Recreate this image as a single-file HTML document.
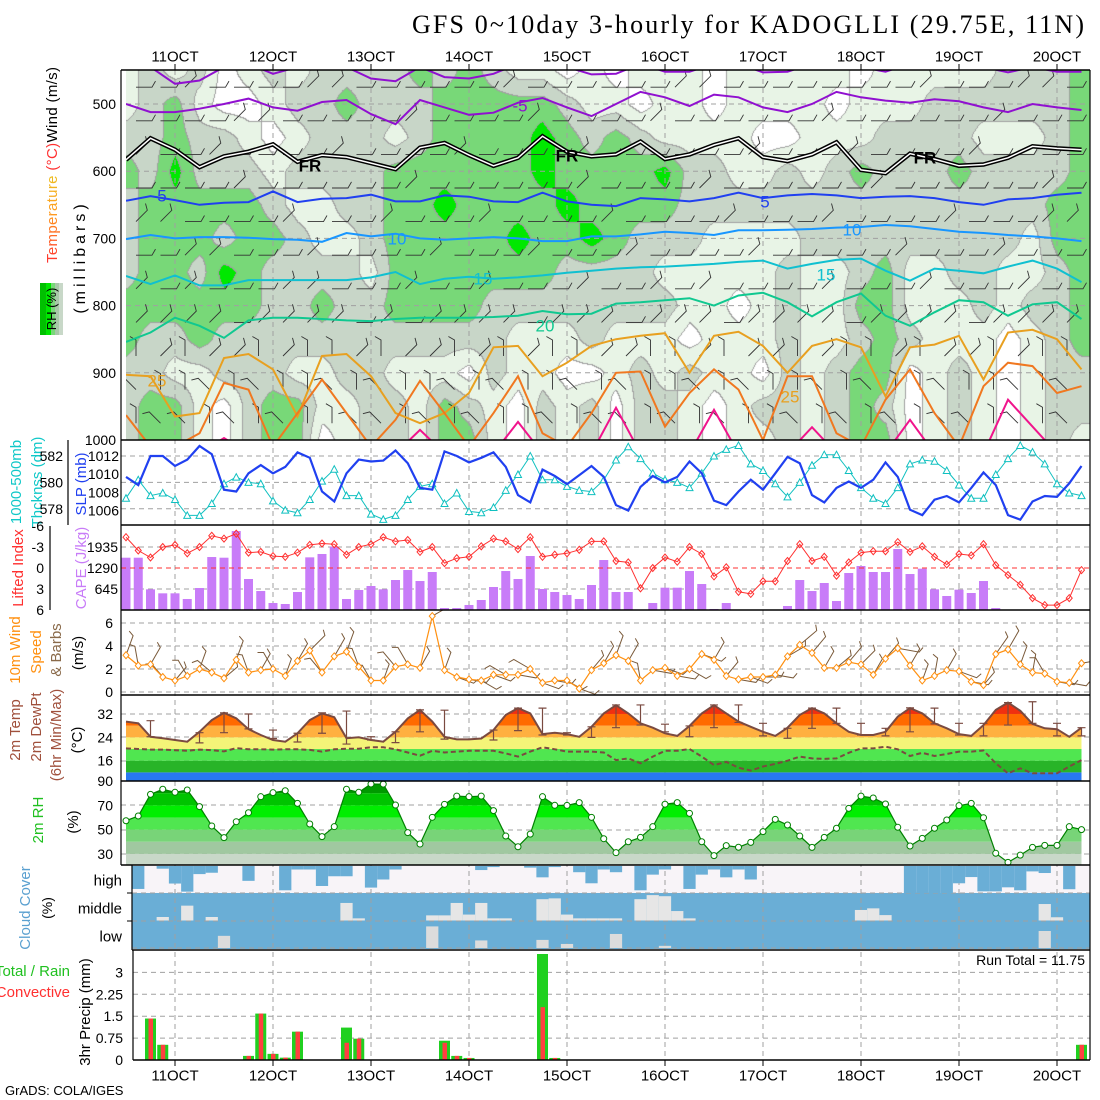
<!DOCTYPE html>
<html>
<head>
<meta charset="utf-8">
<style>
body{margin:0;background:#fff;width:1100px;height:1100px;overflow:hidden;position:relative;font-family:"Liberation Sans",sans-serif}
#rhcanvas{position:absolute;left:126px;top:70px}
#chart{position:absolute;left:0;top:0}
text{font-family:"Liberation Sans",sans-serif}
</style>
</head>
<body>
<canvas id="rhcanvas" width="964" height="370"></canvas>
<svg id="chart" width="1100" height="1100" xmlns="http://www.w3.org/2000/svg">
<defs>
  <clipPath id="clipMain"><rect x="126" y="70" width="964" height="370"/></clipPath>
  <clipPath id="clipWind"><rect x="121" y="610" width="969" height="85"/></clipPath>
  <linearGradient id="tempGrad" x1="0" y1="0" x2="1" y2="0">
    <stop offset="0" stop-color="#ff3030"/><stop offset="0.25" stop-color="#ff9a20"/>
    <stop offset="0.5" stop-color="#e8c820"/><stop offset="0.7" stop-color="#30c860"/>
    <stop offset="1" stop-color="#10b8d8"/>
  </linearGradient>
</defs>
<g id="gBack"></g>
<g id="gGrid"></g>
<g id="gData"></g>
<g id="gFrame"></g>

<text x="1084" y="33" text-anchor="end" font-family="Liberation Serif, serif" font-size="26" textLength="672" style="font-family:'Liberation Serif',serif">GFS 0~10day 3-hourly for KADOGLLI (29.75E, 11N)</text>

<text transform="translate(57,165) rotate(-90)" text-anchor="middle" font-size="15" textLength="196"><tspan fill="url(#tempGrad)">Temperature</tspan><tspan fill="#ff3030"> (°C)</tspan><tspan fill="#000">Wind (m/s)</tspan></text>
<text transform="translate(85,257) rotate(-90)" text-anchor="middle" font-size="16" letter-spacing="4">(millibars)</text>
<g>
  <rect x="40" y="283" width="6" height="52" fill="#00c000"/>
  <rect x="46" y="283" width="5" height="52" fill="#00e600"/>
  <rect x="51" y="283" width="4" height="52" fill="#78d878"/>
  <rect x="55" y="283" width="4" height="52" fill="#a8c8a8"/>
  <rect x="59" y="283" width="4" height="52" fill="#c8d8c8"/>
  <text transform="translate(56,309) rotate(-90)" text-anchor="middle" font-size="13">RH (%)</text>
</g>

<text transform="translate(21,482) rotate(-90)" text-anchor="middle" font-size="15" fill="#10c8c8">1000-500mb</text>
<text transform="translate(42,482) rotate(-90)" text-anchor="middle" font-size="15" fill="#10c8c8">Thcknss (dm)</text>
<text transform="translate(86,484) rotate(-90)" text-anchor="middle" font-size="15" fill="#2040f0">SLP (mb)</text>

<text transform="translate(23,568) rotate(-90)" text-anchor="middle" font-size="15" fill="#ff3030">Lifted Index</text>
<text transform="translate(86,568) rotate(-90)" text-anchor="middle" font-size="15" fill="#c87cf8">CAPE (J/kg)</text>

<text transform="translate(20,650) rotate(-90)" text-anchor="middle" font-size="15" fill="#ff9010">10m Wind</text>
<text transform="translate(41,652) rotate(-90)" text-anchor="middle" font-size="15" fill="#ff9010">Speed</text>
<text transform="translate(61,650) rotate(-90)" text-anchor="middle" font-size="15" fill="#8a6a4a">&amp; Barbs</text>
<text transform="translate(83,653) rotate(-90)" text-anchor="middle" font-size="15">(m/s)</text>

<text transform="translate(20,730) rotate(-90)" text-anchor="middle" font-size="15" fill="#a0503c">2m Temp</text>
<text transform="translate(41,727) rotate(-90)" text-anchor="middle" font-size="15" fill="#a0503c">2m DewPt</text>
<text transform="translate(61,735) rotate(-90)" text-anchor="middle" font-size="15" fill="#a0503c">(6hr Min/Max)</text>
<text transform="translate(82,740) rotate(-90)" text-anchor="middle" font-size="15">(°C)</text>

<text transform="translate(43,820) rotate(-90)" text-anchor="middle" font-size="15" fill="#20c020">2m RH</text>
<text transform="translate(78,822) rotate(-90)" text-anchor="middle" font-size="15">(%)</text>

<text transform="translate(30,908) rotate(-90)" text-anchor="middle" font-size="15" fill="#5aa0d0">Cloud Cover</text>
<text transform="translate(52,908) rotate(-90)" text-anchor="middle" font-size="14">(%)</text>
<text x="122" y="881" text-anchor="end" dominant-baseline="central" font-size="15">high</text>
<text x="122" y="909" text-anchor="end" dominant-baseline="central" font-size="15">middle</text>
<text x="122" y="937" text-anchor="end" dominant-baseline="central" font-size="15">low</text>

<text x="70" y="976" text-anchor="end" font-size="15" fill="#20c020">Total / Rain</text>
<text x="70" y="997" text-anchor="end" font-size="15" fill="#ff3030">Convective</text>
<text transform="translate(90,1012) rotate(-90)" text-anchor="middle" font-size="15">3hr Precip (mm)</text>
<text x="1085" y="965" text-anchor="end" font-size="14">Run Total = 11.75</text>
<text x="5" y="1095" font-size="13">GrADS: COLA/IGES</text>

<g id="gAxisText"></g>
</svg>

<script>
// ---------------- data ----------------
const dayLabels = ["11OCT","12OCT","13OCT","14OCT","15OCT","16OCT","17OCT","18OCT","19OCT","20OCT"];
const slp = [1009.7,1008.8,1012.0,1012.0,1010.9,1011.6,1013.1,1012.2,1008.3,1008.1,
 1010.1,1011.0,1010.1,1010.8,1012.4,1011.8,1008.1,1007.0,1010.1,1011.6,
 1011.4,1011.5,1012.6,1011.2,1008.5,1008.3,1012.5,1012.0,1011.3,1011.8,
 1012.4,1010.8,1007.7,1006.9,1010.5,1009.8,1008.9,1009.9,1010.9,1009.7,
 1006.6,1006.0,1008.6,1009.8,1009.1,1009.7,1011.4,1010.1,1007.1,1006.6,
 1008.1,1009.4,1008.3,1010.1,1011.9,1011.2,1007.7,1006.9,1008.5,1009.2,
 1008.5,1009.4,1011.3,1009.7,1006.1,1005.5,1007.2,1007.6,1006.9,1008.5,
 1010.2,1008.8,1005.5,1005.0,1007.0,1007.6,1007.5,1009.0,1010.9];
const thickness = [578.8,580.2,579.0,579.2,578.7,577.5,577.5,578.4,579.9,580.4,
 580.0,579.9,578.6,577.9,577.7,578.7,580.1,581.0,579.0,579.0,
 577.6,577.2,577.5,578.7,579.7,579.9,578.4,579.2,577.8,577.7,
 578.1,579.4,580.6,582.0,580.2,580.2,579.7,579.4,579.3,580.2,
 581.7,582.7,581.8,580.7,580.2,580.0,579.6,580.7,582.0,582.5,
 582.8,581.4,580.9,579.9,578.9,580.0,581.3,582.1,582.1,580.9,
 579.6,578.8,578.4,579.6,581.4,581.7,581.6,580.9,579.8,578.8,
 578.8,580.6,581.8,582.8,582.3,581.4,579.9,579.2,579.0];
const liftedIndex = [-4.4,-2.5,-1.5,-3.0,-3.3,-2.1,-3.0,-4.6,-4.2,-4.9,
 -2.2,-2.3,-1.7,-1.6,-2.2,-3.3,-3.5,-3.4,-1.9,-3.0,
 -3.4,-4.4,-3.8,-4.0,-2.3,-3.0,-0.7,-1.4,-1.6,-3.1,
 -4.2,-3.8,-2.7,-4.4,-1.6,-1.9,-2.1,-2.6,-3.8,-3.8,
 -1.0,-0.8,2.9,0.0,-1.5,-0.9,-3.0,-2.0,1.2,-0.1,
 3.4,3.7,1.9,1.9,-1.0,-3.4,-1.0,-1.6,1.1,-0.8,
 -2.2,-2.4,-2.4,-3.7,-2.3,-3.1,-1.6,-0.5,-2.0,-1.8,
 -3.4,-0.4,1.0,2.4,4.3,5.3,5.3,4.3,0.3];
const cape = [1606,1606,635,512,512,338,675,1627,1606,2425,
 952,583,215,184,553,1617,1720,1945,338,614,
 737,635,921,1228,890,1167,61,61,154,307,
 706,1197,952,1658,645,553,460,338,768,1535,
 553,553,0,215,685,685,1197,798,31,215,
 0,0,0,0,123,921,583,829,276,1136,
 1351,1167,1167,1873,1105,1269,635,430,624,522,
 890,61,0,0,0,0,0,0,0];
const windSpeed10 = [3.2,2.3,2.4,1.3,1.0,1.4,2.0,1.7,1.2,2.8,
 1.7,1.9,2.0,1.4,2.7,3.6,1.7,3.1,3.5,2.2,
 1.0,1.0,2.2,2.4,2.1,6.6,1.9,1.3,1.1,1.0,
 1.5,1.5,1.5,2.0,0.8,1.0,1.0,0.3,1.9,2.5,
 3.2,2.7,1.0,1.9,2.1,1.4,2.0,3.3,2.8,1.4,
 1.1,1.3,1.3,1.5,3.1,4.1,3.4,2.1,2.1,2.6,
 2.4,1.5,2.9,3.8,2.3,1.0,1.4,1.9,1.8,0.9,
 0.6,3.3,3.7,2.4,1.7,1.6,0.9,0.8,2.5];
const windDir10 = [20,350,30,320,40,330,20,310,50,20,
 340,30,330,20,30,45,320,30,20,340,
 330,20,320,330,30,60,20,110,100,120,
 110,300,100,300,110,100,120,110,40,30,
 20,30,350,100,110,100,120,110,30,40,
 100,110,90,100,60,50,40,30,50,40,
 45,30,40,100,30,20,10,30,110,100,
 40,35,30,20,10,330,100,100,80];
const temp2m = [29.4,28.8,24.2,23.7,23.1,22.5,25.9,29.9,32.4,30.5,
 26.8,24.8,23.1,22.5,25.4,29.9,32.2,30.9,23.7,24.0,
 23.1,22.5,25.9,30.5,33.4,29.4,24.2,23.3,23.3,23.6,
 26.5,31.7,34.0,32.2,25.1,25.6,25.1,24.2,27.6,32.2,
 35.0,32.2,28.8,27.3,25.4,24.5,27.9,32.2,35.0,32.2,
 29.4,27.6,25.9,24.5,27.3,31.7,34.0,32.2,28.8,25.9,
 24.8,24.8,25.9,31.1,34.0,32.2,28.8,27.1,25.1,24.5,
 28.2,33.4,35.9,33.1,28.6,27.1,26.8,24.2,27.3];
const dewpt2m = [20.2,20.0,19.8,19.8,19.6,19.4,19.8,19.6,19.2,20.3,
 19.9,19.9,19.8,19.9,19.9,19.7,19.1,19.9,20.1,20.1,
 20.6,20.6,19.9,18.8,17.7,19.4,18.8,19.1,19.4,19.4,
 19.4,18.5,17.4,19.1,20.6,19.9,19.1,19.1,19.1,18.8,
 16.2,16.8,15.1,17.4,19.4,19.4,20.0,17.4,14.5,15.6,
 13.6,12.6,14.0,14.9,16.0,17.4,16.8,16.6,16.8,18.7,
 20.2,20.2,20.8,19.9,17.6,18.7,17.6,18.3,19.1,19.1,
 19.5,15.1,11.7,13.4,11.7,11.7,11.7,14.0,16.2];
const t6min = [null,24.2,null,22.1,25.6,26.9,23.6,22.4,25.4,21.7,23.1,22.2,25.9,23.4,null,23.1,26.3,24.8,24.8,24.0,
 27.3,28.2,25.9,24.2,27.3,29.1,24.5,23.7,27.1,28.8,24.8,24.5,25.9,28.6,24.8,24.5,28.2,28.8,24.5,24.5];
const t6max = [null,29.7,null,25.6,32.4,32.0,26.5,25.4,32.4,33.0,24.2,25.9,33.4,33.3,null,26.5,34.0,34.0,25.6,27.6,
 35.1,35.1,28.5,27.9,35.1,35.1,28.8,27.1,34.0,34.0,28.8,27.1,34.1,34.0,28.8,28.8,35.9,36.2,28.8,27.3];
const rh2m = [57.3,61.2,79.0,83.2,80.7,82.6,68.9,53.0,43.4,56.5,
 63.9,77.1,80.4,82.0,71.6,54.6,44.2,52.4,83.2,80.7,
 87.5,87.4,70.2,47.5,38.1,60.1,70.8,77.6,77.1,77.6,
 65.6,44.7,35.9,46.3,77.1,70.0,69.9,72.2,60.1,42.5,
 31.0,40.0,43.6,52.4,70.9,72.2,63.4,40.0,28.6,36.8,
 35.5,39.5,48.3,58.4,53.8,44.7,35.4,43.6,51.1,67.5,
 77.6,76.0,71.1,51.9,36.5,42.8,51.1,57.9,69.7,71.6,
 59.8,30.5,23.0,29.0,35.4,37.0,37.0,52.4,50.0];
const cloudHigh = [0,.85,0,.1,.65,.95,.3,.25,0,0,
 .55,0,0,.9,.13,.13,.74,.38,.38,0,
 .8,.5,.13,0,0,0,0,0,0,.15,
 .04,0,0,.06,.42,.04,0,.23,.64,.13,
 .23,0,.9,.32,.13,0,.85,.32,.13,.42,
 .13,.5,0,0,0,0,0,0,0,0,
 0,0,0,0,1,1,1,1,.64,.41,
 .94,.94,.79,.9,.2,.26,0,.86,0];
const cloudMidClear = [0,0,0,.13,0,.55,0,.13,0,0,
 0,0,0,0,0,0,0,0,.65,.08,
 0,0,0,0,0,.19,.19,.65,.22,.65,
 .08,.08,0,0,.79,.82,.22,.08,.08,.08,
 .08,0,.79,.94,.9,.35,.08,0,0,0,
 0,0,0,0,0,0,0,0,0,0,
 .39,.45,.2,0,0,0,0,0,0,0,
 0,0,0,0,0,.61,.12,0,0];
const cloudLowClear = [0,0,0,0,0,0,0,0,.45,0,
 0,0,0,0,0,0,0,0,0,0,
 0,0,0,0,0,.8,0,0,0,.28,
 0,0,0,0,.3,0,.15,0,0,0,
 .52,0,0,0,.08,0,0,0,0,0,
 0,0,0,0,0,0,0,0,0,0,
 0,0,0,0,0,0,0,0,0,0,
 0,0,0,0,0,.63,0,0,0];
const precipTotal = [0,0,1.42,.52,0,0,0,0,0,0,
 .14,1.59,.21,.08,.97,0,0,0,1.11,.73,
 0,0,0,0,0,0,.66,.14,.07,0,
 0,0,0,0,3.63,.07,0,0,0,0,
 0,0,0,0,0,0,0,0,0,0,
 0,0,0,0,0,0,0,0,0,0,
 0,0,0,0,0,0,0,0,0,0,
 0,0,0,0,0,0,0,0,.52];
const precipConv = [0,0,1.42,.52,0,0,0,0,0,0,
 .14,1.59,.21,.08,.97,0,0,0,.59,.73,
 0,0,0,0,0,0,.59,.14,.07,0,
 0,0,0,0,1.81,.07,0,0,0,0,
 0,0,0,0,0,0,0,0,0,0,
 0,0,0,0,0,0,0,0,0,0,
 0,0,0,0,0,0,0,0,0,0,
 0,0,0,0,0,0,0,0,.52];
const rhLevels = [450,500,550,600,650,700,750,800,850,900,950,1000];
const rhRows = [
 "1212012122"+"2232321101"+"0111011111"+"0111112223",
 "1231001223"+"2223333321"+"1011011110"+"1112222223",
 "2232210122"+"2123333432"+"3211110011"+"1222211123",
 "3242221222"+"2333333433"+"3342211212"+"3222322223",
 "2333332112"+"2334333343"+"3332222222"+"2222222233",
 "2333233211"+"2333334334"+"3222111122"+"2222222133",
 "2332432222"+"1333333322"+"2211111211"+"2311221123",
 "3333332232"+"2333322222"+"2221101211"+"3311121223",
 "3223222222"+"2222221112"+"1110111211"+"2321110123",
 "2211222112"+"2111021100"+"1212110212"+"3301210122",
 "2331023311"+"2213210212"+"0221012212"+"3201210122",
 "2331023301"+"2213310212"+"0221011212"+"3301210121"];
const isoM10 = [440,445,470,465,445,440,455,445,440,445,462,466,445,460,462,455,440,440,445,456,455,440,452,452,440,440,453,452,440,440,445,452,440,440,440,445,453,445,452,452];
const isoM5 = [500,512,512,507,500,492,505,510,497,494,515,530,494,505,516,513,498,491,505,518,500,482,490,503,486,490,505,512,500,482,490,495,498,493,496,505,512,500,505,509];
const isoFR = [583,551,568,594,578,571,560,586,576,579,588,597,565,558,576,592,580,548,571,578,575,556,582,575,561,551,579,585,575,557,598,603,574,582,592,590,580,563,566,568];
const iso5 = [644,637,643,650,647,646,630,646,641,640,635,645,645,636,638,645,646,632,645,650,652,640,642,645,640,632,640,636,634,636,640,638,637,640,646,650,642,640,635,632];
const iso10 = [701,695,700,698,698,699,701,702,705,692,697,693,700,702,700,698,700,704,704,697,697,694,690,692,695,688,688,687,686,684,683,680,682,686,690,692,695,697,700,704];
const iso15 = [756,768,755,770,770,762,762,762,762,762,758,750,768,760,757,760,758,755,751,748,745,743,742,740,738,735,733,745,738,732,730,748,763,745,748,752,742,733,745,765];
const iso20 = [854,840,818,830,848,822,818,818,820,822,823,820,818,818,818,817,815,808,813,812,797,795,792,789,800,785,781,795,816,795,782,815,830,810,792,795,815,798,795,820];
const iso25 = [903,905,965,960,878,872,895,965,875,872,905,960,975,960,930,862,860,905,885,860,850,845,841,900,845,839,860,900,860,850,862,935,862,858,845,910,840,836,850,895];
const iso30 = [963,1010,1010,990,915,925,1010,960,910,960,1010,970,912,960,1010,960,905,990,1010,960,900,898,980,930,895,925,1000,905,905,990,1010,940,895,960,1010,920,885,890,930,920];
const iso35 = [1020,1020,1020,1020,997,1020,1020,1020,1005,1020,1020,1020,985,1020,1020,1020,973,1020,1020,1020,952,1020,1020,1020,955,1020,1020,1020,981,1020,1020,1020,970,1020,1020,1020,940,980,1020,1020];
const barbLevels = [475,525,575,625,675,725,775,825,875,925,975];
const barbRows = [
 "2212222112222221222222112222222212221122",
 "2222112222212222122221222222122222212222",
 "1221222212222122221222222122212222122221",
 "2222122222212222221222212222221222222122",
 "1122221222122212222122221222122221222112",
 "2211222122221222122212222122222122212222",
 "1212221122212212221221212222122212221221",
 "1111211112121111211121112111121111211112",
 "0101101001011010100110010110100101101001",
 "7007070070700707007070070700707007007070",
 "0770707007707070070770707007070707707070"];

// ---------------- scales ----------------
const NS = "http://www.w3.org/2000/svg";
const X = i => 126 + 12.25 * i;
const Xc = c => 126 + 24.5 * c;
const yP = p => 440 - (1000 - p) * 0.672;
const ySlp = v => 456 + (1012 - v) * 9.1;
const yTh = v => 456 + (582 - v) * 13.2;
const yLI = v => 568 + v * 7;
const yCape = v => 610 - v / 30.71;
const yW = v => 692 - v * 11.5;
const yT = v => 760.7 - (v - 16) * 2.92;
const yRH = v => 781 + (90 - v) * 1.215;
const yPr = v => 1060 - v * 29.2;

function mk(tag, attrs, parent){
  const e = document.createElementNS(NS, tag);
  for (const k in attrs) e.setAttribute(k, attrs[k]);
  parent.appendChild(e);
  return e;
}
const gBack = document.getElementById('gBack');
const gGrid = document.getElementById('gGrid');
const gData = document.getElementById('gData');
const gFrame = document.getElementById('gFrame');
const gAxis = document.getElementById('gAxisText');

// ---------------- RH canvas ----------------
(function(){
  const cv = document.getElementById('rhcanvas');
  const ctx = cv.getContext('2d');
  const W = 964, H = 370;
  const img = ctx.createImageData(W, H);
  const grid = rhRows.map(s => s.split('').map(Number));
  const cols = [[255,255,255],[232,244,230],[200,214,200],[120,216,120],[0,232,0]];
  const band = new Uint8Array(W*H);
  for (let py=0; py<H; py++){
    const y = 70 + py + 0.5;
    const p = 1000 - (440 - y)/0.672;
    let r = (p - rhLevels[0]) / 50; r = Math.max(0, Math.min(rhLevels.length-1, r));
    const r0 = Math.floor(r), r1 = Math.min(r0+1, rhLevels.length-1), fr = r - r0;
    for (let px=0; px<W; px++){
      const x = 126 + px + 0.5;
      let c = (x - 126)/24.5; c = Math.max(0, Math.min(39, c));
      const c0 = Math.floor(c), c1 = Math.min(c0+1, 39), fc = c - c0;
      const v = (grid[r0][c0]*(1-fc) + grid[r0][c1]*fc)*(1-fr) + (grid[r1][c0]*(1-fc) + grid[r1][c1]*fc)*fr;
      band[py*W+px] = v<0.5?0:v<1.5?1:v<2.5?2:v<3.5?3:4;
    }
  }
  for (let py=0; py<H; py++){
    for (let px=0; px<W; px++){
      const k = py*W+px, b = band[k];
      let col = cols[b];
      if ((px>0 && band[k-1]!==b) || (py>0 && band[k-W]!==b)) col = [160,160,160];
      img.data[k*4]=col[0]; img.data[k*4+1]=col[1]; img.data[k*4+2]=col[2]; img.data[k*4+3]=255;
    }
  }
  ctx.putImageData(img, 0, 0);
})();

// ---------------- backgrounds ----------------
let el;
el = mk('rect', {x:132, y:866, width:958, height:27, fill:'#f8f4f8'}, gBack);


el = mk('rect', {x:132, y:893, width:958, height:56, fill:'#6aaed6'}, gBack);



for (let i=1; i<cloudHigh.length; i++){
  const x0 = Math.max(132, X(i) - 6.125);
  const w = X(i) + 6.125 - x0;
  if (cloudHigh[i] > 0){
    el = mk('rect', {x:x0, y:866, width:w, height:27*cloudHigh[i], fill:'#6aaed6'}, gData);
    
    
  }
  if (cloudMidClear[i] > 0){
    el = mk('rect', {x:x0, y:920.5 - 27*cloudMidClear[i], width:w, height:27*cloudMidClear[i], fill:'#e6e6e6'}, gData);
    
    
  }
  if (cloudLowClear[i] > 0){
    el = mk('rect', {x:x0, y:948 - 27*cloudLowClear[i], width:w, height:27*cloudLowClear[i], fill:'#dcdcdc'}, gData);
    
    
  }
}

// ---------------- gridlines ----------------
function hgrid(y, x0, name, color){
  const e = mk('line', {x1:x0, x2:1090, y1:y, y2:y, stroke:color||'#a0a0a0', 'stroke-width':1, 'stroke-dasharray':'5,4'}, gGrid);
  return e;
}
[500,600,700,800,900].forEach(p => { el = hgrid(yP(p), 126);   });
[582,580,578].forEach(v => { el = hgrid(yTh(v), 121);   });
[1935,645].forEach(v => { el = hgrid(yCape(v), 121);   });
[6,4,2,0].forEach(v => { el = hgrid(yW(v), 121);   });
[893,921,948].forEach(y => { el = hgrid(y, 132);   });
[0.75,1.5,2.25,3].forEach(v => { el = hgrid(yPr(v), 133);   });

// ---------------- main panel ----------------
const gMain = mk('g', {'clip-path':'url(#clipMain)'}, gData);


function isoPath(arr){ return arr.map((p,c) => (c?'L':'M') + Xc(c).toFixed(1) + ' ' + yP(p).toFixed(1)).join(' '); }
const isoDefs = [[isoM10,'#9010d0','isotherm-minus10'],[isoM5,'#9010d0','isotherm-minus5'],[iso5,'#2040f0','isotherm-5'],[iso10,'#1896ff','isotherm-10'],[iso15,'#10c0d0','isotherm-15'],[iso20,'#10c890','isotherm-20'],[iso25,'#e8a020','isotherm-25'],[iso30,'#f07820','isotherm-30'],[iso35,'#f0148c','isotherm-35']];

barbRows.forEach((row, r) => {
  const y = yP(barbLevels[r]);
  for (let c=0; c<row.length-1; c++){
    const th = parseInt(row[c]) * 45 * Math.PI/180;
    const x = Xc(c) + 10;
    const ex = x + 16*Math.sin(th), ey = y - 16*Math.cos(th);
    const t2 = th - Math.PI/3;
    const d = 'M'+x.toFixed(1)+' '+y.toFixed(1)+' L'+ex.toFixed(1)+' '+ey.toFixed(1)+' l'+(7*Math.sin(t2)).toFixed(1)+' '+(-7*Math.cos(t2)).toFixed(1);
    el = mk('path', {d:d, stroke:'#333', 'stroke-width':0.9, fill:'none'}, gMain);
    
    
  }
});
isoDefs.forEach(def => {
  el = mk('path', {d:isoPath(def[0]), stroke:def[1], 'stroke-width':2, fill:'none'}, gMain);
  
  
});
el = mk('path', {d:isoPath(isoFR), stroke:'#000', 'stroke-width':4.5, fill:'none'}, gMain);


el = mk('path', {d:isoPath(isoFR), stroke:'#fff', 'stroke-width':1.5, fill:'none'}, gMain);


const isoLabels = [["-5",520,106,'#9010d0'],["FR",310,166,'#000'],["FR",567,156,'#000'],["FR",925,158,'#000'],["5",162,196,'#2040f0'],["5",765,202,'#2040f0'],["10",397,239,'#1896ff'],["10",852,230,'#1896ff'],["15",483,279,'#10c0d0'],["15",826,275,'#10c0d0'],["20",545,326,'#10c890'],["25",157,381,'#e8a020'],["25",790,397,'#e8a020']];
isoLabels.forEach(l => {
  el = mk('text', {x:l[1], y:l[2], fill:l[3], 'font-size':17, 'text-anchor':'middle', 'dominant-baseline':'central', 'font-weight': l[0]==='FR'?'bold':'normal'}, gMain);
  el.textContent = l[0];
  
  
});

// ---------------- SLP / thickness ----------------
function lineD(arr, fy){ return arr.map((v,i) => (i?'L':'M') + X(i).toFixed(1) + ' ' + fy(v).toFixed(1)).join(' '); }
el = mk('path', {d:lineD(thickness, yTh), stroke:'#10c0c0', 'stroke-width':1, fill:'none'}, gData);


thickness.forEach((v,i) => {
  const x = X(i), y = yTh(v);
  el = mk('path', {d:'M'+(x-3.5)+' '+(y+3)+' L'+x+' '+(y-3.5)+' L'+(x+3.5)+' '+(y+3)+' Z', stroke:'#10c0c0', fill:'#fff', 'stroke-width':1}, gData);
  
  
});
el = mk('path', {d:lineD(slp, ySlp), stroke:'#2040f0', 'stroke-width':2.2, fill:'none'}, gData);



// ---------------- LI / CAPE ----------------
cape.forEach((v,i) => {
  if (v <= 0) return;
  el = mk('rect', {x:X(i)-4.5, y:yCape(v), width:9, height:610-yCape(v), fill:'#c87cf8'}, gData);
  
  
});
el = mk('line', {x1:121, x2:1090, y1:yLI(0), y2:yLI(0), stroke:'#ff3030', 'stroke-width':1, 'stroke-dasharray':'5,4'}, gData);


el = mk('path', {d:lineD(liftedIndex, yLI), stroke:'#ff3030', 'stroke-width':1, fill:'none'}, gData);


liftedIndex.forEach((v,i) => {
  const x = X(i), y = yLI(v);
  el = mk('path', {d:'M'+(x-3)+' '+y+' L'+x+' '+(y-3.5)+' L'+(x+3)+' '+y+' L'+x+' '+(y+3.5)+' Z', stroke:'#ff3030', fill:'none', 'stroke-width':1}, gData);
  
  
});

// ---------------- 10m wind ----------------
const gWind = mk('g', {'clip-path':'url(#clipWind)'}, gData);


windSpeed10.forEach((v,i) => {
  const th = windDir10[i]*Math.PI/180, x = X(i), y = yW(v);
  const L = 16 + v*1.5;
  const ex = x + L*Math.sin(th), ey = y - L*Math.cos(th);
  const t2 = th - Math.PI/3;
  el = mk('path', {d:'M'+x.toFixed(1)+' '+y.toFixed(1)+' L'+ex.toFixed(1)+' '+ey.toFixed(1)+' l'+(6*Math.sin(t2)).toFixed(1)+' '+(-6*Math.cos(t2)).toFixed(1), stroke:'#7a5a3a', 'stroke-width':1, fill:'none'}, gWind);
  
  
});
el = mk('path', {d:lineD(windSpeed10, yW), stroke:'#ff9010', 'stroke-width':1.2, fill:'none'}, gData);


windSpeed10.forEach((v,i) => {
  const x = X(i), y = yW(v);
  el = mk('path', {d:'M'+(x-3)+' '+y+' L'+x+' '+(y-3.5)+' L'+(x+3)+' '+y+' L'+x+' '+(y+3.5)+' Z', stroke:'#ff9010', fill:'#fff', 'stroke-width':1}, gData);
  
  
});

// ---------------- 2m temperature ----------------
const tPoly = 'M'+X(0)+' 781 ' + temp2m.map((v,i) => 'L'+X(i).toFixed(1)+' '+yT(v).toFixed(1)).join(' ') + ' L'+X(temp2m.length-1)+' 781 Z';
const defs = document.querySelector('defs');
const cpT = mk('clipPath', {id:'clipTemp'}, defs);
mk('path', {d:tPoly}, cpT);
const gT = mk('g', {'clip-path':'url(#clipTemp)'}, gData);


const tBands = [[-50,12,'#2878f0'],[12,16,'#28b428'],[16,20,'#50e650'],[20,24,'#f4f478'],[24,28,'#ffb040'],[28,32,'#ff6a00'],[32,60,'#f03010']];
tBands.forEach(b => {
  const yTop = Math.max(695, yT(b[1])), yBot = Math.min(781, yT(b[0]));
  el = mk('rect', {x:121, y:yTop, width:969, height:Math.max(0,yBot-yTop), fill:b[2]}, gT);
  
  
});
[714,737,761].forEach(y => { el = hgrid(y, 121);   });
el = mk('path', {d:lineD(temp2m, yT), stroke:'#7a4a40', 'stroke-width':2, fill:'none'}, gData);


el = mk('path', {d:lineD(dewpt2m, yT), stroke:'#7a4a40', 'stroke-width':2, fill:'none', 'stroke-dasharray':'5,3'}, gData);


t6min.forEach((lo,k) => {
  if (lo === null) return;
  const x = X(2*k), y1 = yT(t6max[k]), y2 = yT(lo);
  el = mk('path', {d:'M'+x+' '+y1+' L'+x+' '+y2+' M'+(x-4)+' '+y1+' L'+(x+4)+' '+y1+' M'+(x-4)+' '+y2+' L'+(x+4)+' '+y2, stroke:'#7a4a40', 'stroke-width':1.2, fill:'none'}, gData);
  
  
});

// ---------------- 2m RH ----------------
const rPoly = 'M'+X(0)+' 865 ' + rh2m.map((v,i) => 'L'+X(i).toFixed(1)+' '+yRH(v).toFixed(1)).join(' ') + ' L'+X(rh2m.length-1)+' 865 Z';
const cpR = mk('clipPath', {id:'clipRH'}, defs);
mk('path', {d:rPoly}, cpR);
const gR = mk('g', {'clip-path':'url(#clipRH)'}, gData);


const rBands = [[0,30,'#c8d8c8'],[30,40,'#a0c8a0'],[40,50,'#78d478'],[50,60,'#50e650'],[60,70,'#00ee00'],[70,80,'#00c400'],[80,100,'#009a00']];
rBands.forEach(b => {
  const yTop = Math.max(781, yRH(b[1])), yBot = Math.min(865, yRH(b[0]));
  el = mk('rect', {x:121, y:yTop, width:969, height:Math.max(0,yBot-yTop), fill:b[2]}, gR);
  
  
});
[805,830,854].forEach(y => { el = hgrid(y, 121);   });
el = mk('path', {d:lineD(rh2m, yRH), stroke:'#008000', 'stroke-width':1.2, fill:'none'}, gData);


rh2m.forEach((v,i) => {
  el = mk('circle', {cx:X(i), cy:yRH(v), r:3, fill:'#fff', stroke:'#008000', 'stroke-width':1}, gData);
  
  
});

// ---------------- precip ----------------
precipTotal.forEach((v,i) => {
  if (v <= 0) return;
  el = mk('rect', {x:X(i)-5.5, y:yPr(v), width:11, height:1060-yPr(v), fill:'#20d020'}, gData);
  
  
  const cv = precipConv[i];
  el = mk('rect', {x:X(i)-2, y:yPr(cv), width:4.5, height:1060-yPr(cv), fill:'#ff4040'}, gData);
  
  
});

// ---------------- day gridlines and labels ----------------
dayLabels.forEach((lab, k) => {
  const x = X(4 + 8*k);
  el = mk('line', {x1:x, x2:x, y1:70, y2:1060, stroke:'#a0a0a0', 'stroke-width':1, 'stroke-dasharray':'5,4'}, gGrid);
  
  
  el = mk('line', {x1:x, x2:x, y1:64, y2:70, stroke:'#000', 'stroke-width':1}, gFrame);
  
  
  el = mk('line', {x1:x, x2:x, y1:1060, y2:1066, stroke:'#000', 'stroke-width':1}, gFrame);
  
  
  el = mk('text', {x:x, y:57, 'text-anchor':'middle', 'dominant-baseline':'central', 'font-size':15}, gAxis);
  el.textContent = lab;
  
  
  el = mk('text', {x:x, y:1076, 'text-anchor':'middle', 'dominant-baseline':'central', 'font-size':15}, gAxis);
  el.textContent = lab;
  
  
});

// ---------------- frames ----------------
function frameLine(x1,y1,x2,y2,w){ return mk('line', {x1:x1,y1:y1,x2:x2,y2:y2,stroke:'#000','stroke-width':w||1.5}, gFrame); }
[[121,70,1090,70],[121,440,1090,440],[121,525,1090,525],[121,610,1090,610],[121,695,1090,695],[121,781,1090,781],[121,865,1090,865],[132,950,1090,950],[133,1060,1090,1060]].forEach(s => {
  el = frameLine(s[0],s[1],s[2],s[3]);
  
  
});
[[121,70,121,865],[1090,70,1090,1060],[132,865,132,950],[133,950,133,1060],[68,440,68,525],[50,526,50,610]].forEach(s => {
  el = frameLine(s[0],s[1],s[2],s[3],1.2);
  
  
});
[893,921].forEach(y => { el = frameLine(127,y,132,y,1);   });

// ---------------- axis tick labels ----------------
const pTicks = [500,600,700,800,900,1000];
const slpTicks = [1012,1010,1008,1006];
const thTicks = [582,580,578];
const liTicks = [-6,-3,0,3,6];
const capeTicks = [1935,1290,645];
const windTicks = [6,4,2,0];
const tempTicks = [32,24,16];
const rhTicks = [90,70,50,30];
const precipTicks = ["3","2.25","1.5","0.75","0"];
function tick(x, y, s){
  const e = mk('text', {x:x, y:y, 'text-anchor':'end', 'dominant-baseline':'central', 'font-size':14}, gAxis);
  e.textContent = s;
  return e;
}
pTicks.forEach(v => { el = tick(116, yP(v), String(v));   });
slpTicks.forEach(v => { el = tick(119, ySlp(v), String(v));   });
thTicks.forEach(v => { el = tick(63, yTh(v), String(v));   });
liTicks.forEach(v => { el = tick(44, yLI(v), String(v));   });
capeTicks.forEach(v => { el = tick(118, yCape(v), String(v));   });
windTicks.forEach(v => { el = tick(113, yW(v), String(v));   });
tempTicks.forEach(v => { el = tick(113, yT(v), String(v));   });
rhTicks.forEach(v => { el = tick(113, yRH(v), String(v));   });
precipTicks.forEach(s => { el = tick(123, yPr(parseFloat(s)), s);   });
</script>
</body>
</html>
